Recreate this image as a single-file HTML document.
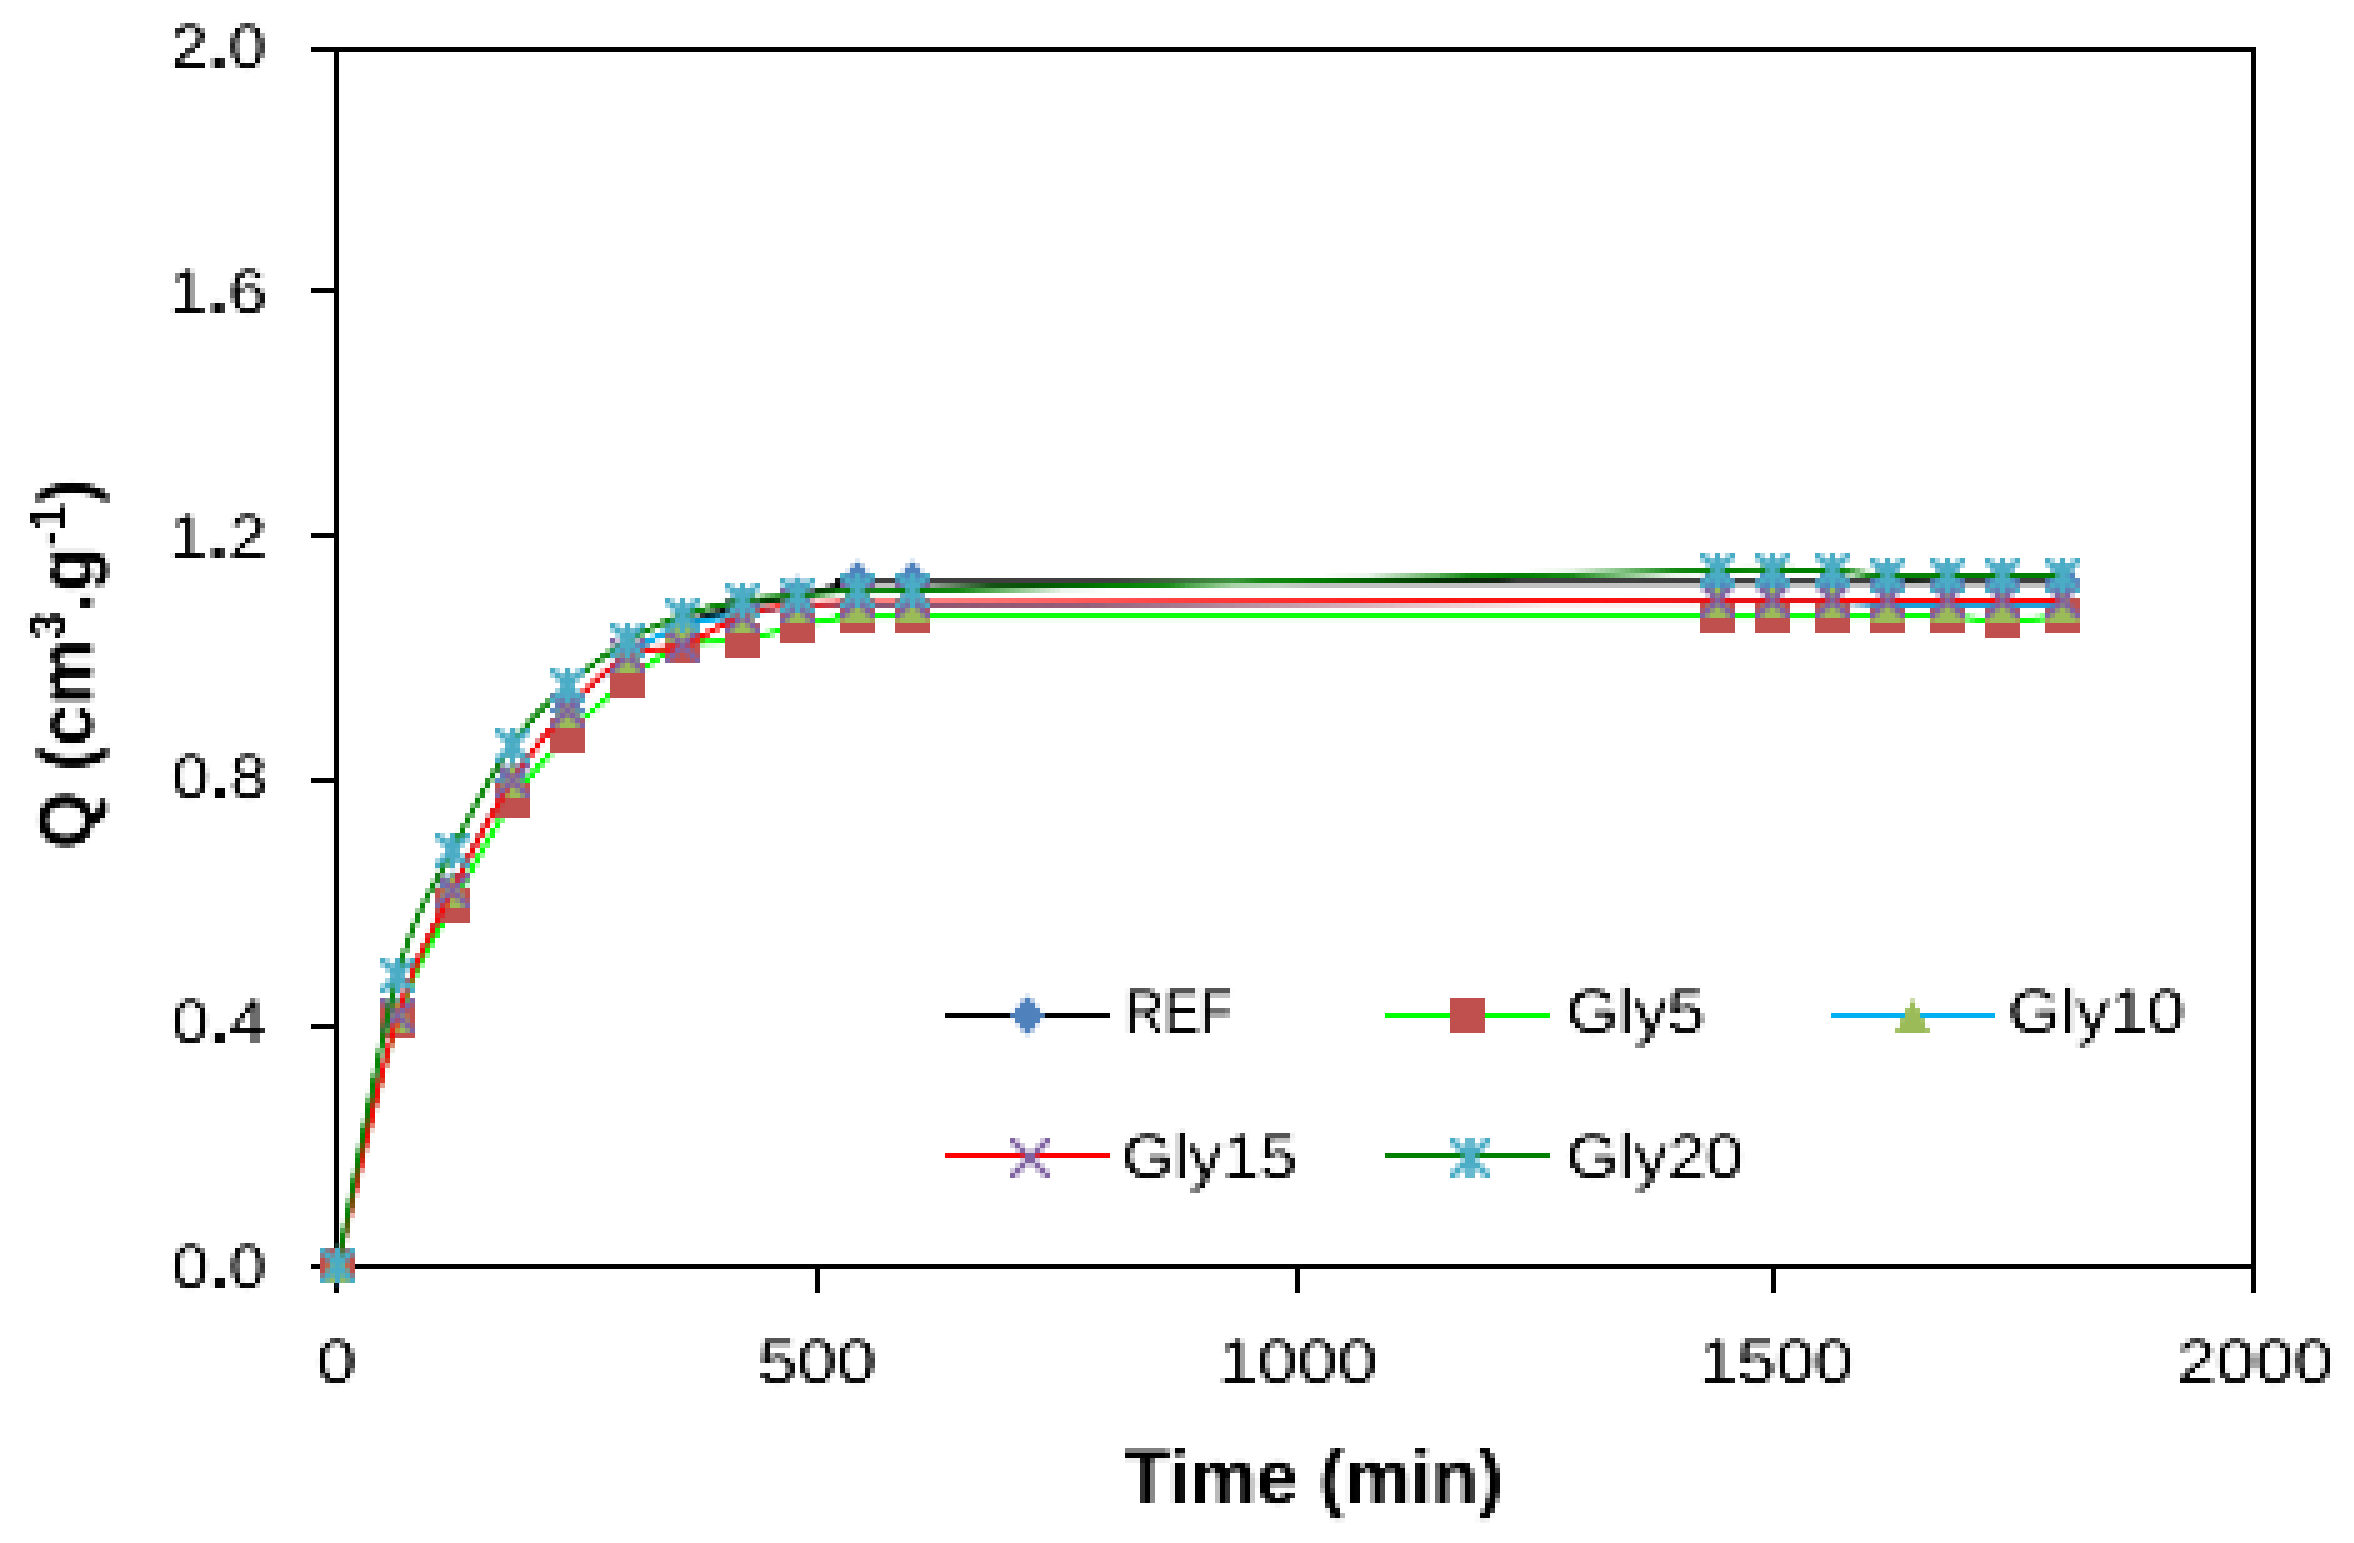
<!DOCTYPE html>
<html><head><meta charset="utf-8"><title>Chart</title>
<style>html,body{margin:0;padding:0;background:#fff}svg{display:block}</style></head>
<body>
<svg width="2354" height="1543" viewBox="0 0 2354 1543" font-family="'Liberation Sans', sans-serif">
<defs><filter id="px" x="0" y="0" width="2354" height="1543" filterUnits="userSpaceOnUse" color-interpolation-filters="sRGB">
<feConvolveMatrix in="SourceGraphic" order="5 1" kernelMatrix="1 1 1 1 1" divisor="5" edgeMode="none" preserveAlpha="false" result="a"/>
<feConvolveMatrix in="a" order="1 5" kernelMatrix="1 1 1 1 1" divisor="5" edgeMode="none" preserveAlpha="false" result="b"/>
<feFlood x="2" y="5" width="1" height="1" flood-color="#000"/>
<feComposite width="5" height="5" x="0" y="3"/>
<feTile result="t"/>
<feComposite in="b" in2="t" operator="in"/>
<feMorphology operator="dilate" radius="2"/>
<feComponentTransfer><feFuncA type="table" tableValues="0 0.08 0.5 0.92 1"/></feComponentTransfer>
</filter></defs>
<rect width="2354" height="1543" fill="#fff"/>
<g fill="#000" shape-rendering="crispEdges">
<rect x="311" y="47" width="1945" height="5"/>
<rect x="334" y="47" width="5" height="1246"/>
<rect x="2251" y="47" width="5" height="1246"/>
<rect x="311" y="1264" width="1945" height="5"/>
<rect x="311" y="288" width="25" height="5"/>
<rect x="311" y="533" width="25" height="5"/>
<rect x="311" y="778" width="25" height="5"/>
<rect x="311" y="1023.5" width="25" height="5"/>
<rect x="814.5" y="1266" width="5" height="27"/>
<rect x="1295" y="1266" width="5" height="27"/>
<rect x="1770.5" y="1266" width="5" height="27"/>
</g>
<g shape-rendering="crispEdges">
<rect x="945" y="1013" width="165" height="5" fill="#000000"/>
<rect x="1385" y="1013" width="165" height="5" fill="#00FF00"/>
<rect x="1831" y="1013" width="164" height="5" fill="#00B0F0"/>
<rect x="945" y="1153" width="165" height="5" fill="#FF0000"/>
<rect x="1385" y="1153" width="165" height="5" fill="#008000"/>
</g>
<g filter="url(#px)">
<path d="M337.5 1266.5C347.5 1224.9 378.3 1079.9 397.5 1017.0C416.7 954.1 433.3 928.8 452.5 889.2C471.7 849.7 493.3 809.6 512.5 779.7C531.7 749.8 548.3 730.5 567.5 709.7C586.7 688.9 608.3 669.2 627.5 655.0C646.7 640.8 663.3 632.6 682.5 624.5C701.7 616.4 723.3 611.0 742.5 606.3C761.7 601.5 778.3 599.9 797.5 595.9C816.7 591.9 838.3 584.5 857.5 582.2C876.7 580.0 769.2 582.2 912.5 582.2C1055.8 582.2 1574.2 582.2 1717.5 582.2C1860.8 582.2 1753.3 582.2 1772.5 582.2C1791.7 582.2 1813.3 582.2 1832.5 582.2C1851.7 582.2 1868.3 582.2 1887.5 582.2C1906.7 582.2 1928.3 582.2 1947.5 582.2C1966.7 582.2 1983.3 582.2 2002.5 582.2C2021.7 582.2 2052.5 582.2 2062.5 582.2" fill="none" stroke="#000000" stroke-width="5" stroke-linejoin="round"/>
<path d="M337.5 1245.0L355.0 1265.5L337.5 1286.0L320.0 1265.5Z" fill="#4F81BD"/>
<path d="M397.5 995.0L415.0 1015.5L397.5 1036.0L380.0 1015.5Z" fill="#4F81BD"/>
<path d="M452.5 870.0L470.0 890.5L452.5 911.0L435.0 890.5Z" fill="#4F81BD"/>
<path d="M512.5 760.0L530.0 780.5L512.5 801.0L495.0 780.5Z" fill="#4F81BD"/>
<path d="M567.5 690.0L585.0 710.5L567.5 731.0L550.0 710.5Z" fill="#4F81BD"/>
<path d="M627.5 635.0L645.0 655.5L627.5 676.0L610.0 655.5Z" fill="#4F81BD"/>
<path d="M682.5 605.0L700.0 625.5L682.5 646.0L665.0 625.5Z" fill="#4F81BD"/>
<path d="M742.5 585.0L760.0 605.5L742.5 626.0L725.0 605.5Z" fill="#4F81BD"/>
<path d="M797.5 575.0L815.0 595.5L797.5 616.0L780.0 595.5Z" fill="#4F81BD"/>
<path d="M857.5 560.0L875.0 580.5L857.5 601.0L840.0 580.5Z" fill="#4F81BD"/>
<path d="M912.5 560.0L930.0 580.5L912.5 601.0L895.0 580.5Z" fill="#4F81BD"/>
<path d="M1717.5 560.0L1735.0 580.5L1717.5 601.0L1700.0 580.5Z" fill="#4F81BD"/>
<path d="M1772.5 560.0L1790.0 580.5L1772.5 601.0L1755.0 580.5Z" fill="#4F81BD"/>
<path d="M1832.5 560.0L1850.0 580.5L1832.5 601.0L1815.0 580.5Z" fill="#4F81BD"/>
<path d="M1887.5 560.0L1905.0 580.5L1887.5 601.0L1870.0 580.5Z" fill="#4F81BD"/>
<path d="M1947.5 560.0L1965.0 580.5L1947.5 601.0L1930.0 580.5Z" fill="#4F81BD"/>
<path d="M2002.5 560.0L2020.0 580.5L2002.5 601.0L1985.0 580.5Z" fill="#4F81BD"/>
<path d="M2062.5 560.0L2080.0 580.5L2062.5 601.0L2045.0 580.5Z" fill="#4F81BD"/>
<path d="M337.5 1266.5C347.5 1225.5 378.3 1080.8 397.5 1020.7C416.7 960.5 433.3 942.4 452.5 905.7C471.7 868.9 493.3 828.8 512.5 800.4C531.7 772.0 548.3 755.3 567.5 735.3C586.7 715.3 608.3 695.4 627.5 680.5C646.7 665.6 663.3 652.5 682.5 645.8C701.7 639.1 723.3 643.7 742.5 640.4C761.7 637.0 778.3 629.8 797.5 625.7C816.7 621.7 838.3 617.8 857.5 616.2C876.7 614.6 769.2 616.2 912.5 616.2C1055.8 616.2 1574.2 616.2 1717.5 616.2C1860.8 616.2 1753.3 616.2 1772.5 616.2C1791.7 616.2 1813.3 616.2 1832.5 616.2C1851.7 616.2 1868.3 616.2 1887.5 616.2C1906.7 616.2 1928.3 615.4 1947.5 616.2C1966.7 617.0 1983.3 621.2 2002.5 621.2C2021.7 621.2 2052.5 617.0 2062.5 616.2" fill="none" stroke="#00FF00" stroke-width="5" stroke-linejoin="round"/>
<rect x="320.0" y="1248.0" width="35.0" height="35.0" fill="#C0504D"/>
<rect x="380.0" y="1003.0" width="35.0" height="35.0" fill="#C0504D"/>
<rect x="435.0" y="888.0" width="35.0" height="35.0" fill="#C0504D"/>
<rect x="495.0" y="783.0" width="35.0" height="35.0" fill="#C0504D"/>
<rect x="550.0" y="718.0" width="35.0" height="35.0" fill="#C0504D"/>
<rect x="610.0" y="663.0" width="35.0" height="35.0" fill="#C0504D"/>
<rect x="665.0" y="628.0" width="35.0" height="35.0" fill="#C0504D"/>
<rect x="725.0" y="623.0" width="35.0" height="35.0" fill="#C0504D"/>
<rect x="780.0" y="608.0" width="35.0" height="35.0" fill="#C0504D"/>
<rect x="840.0" y="598.0" width="35.0" height="35.0" fill="#C0504D"/>
<rect x="895.0" y="598.0" width="35.0" height="35.0" fill="#C0504D"/>
<rect x="1700.0" y="598.0" width="35.0" height="35.0" fill="#C0504D"/>
<rect x="1755.0" y="598.0" width="35.0" height="35.0" fill="#C0504D"/>
<rect x="1815.0" y="598.0" width="35.0" height="35.0" fill="#C0504D"/>
<rect x="1870.0" y="598.0" width="35.0" height="35.0" fill="#C0504D"/>
<rect x="1930.0" y="598.0" width="35.0" height="35.0" fill="#C0504D"/>
<rect x="1985.0" y="603.0" width="35.0" height="35.0" fill="#C0504D"/>
<rect x="2045.0" y="598.0" width="35.0" height="35.0" fill="#C0504D"/>
<path d="M337.5 1266.5C347.5 1224.9 378.3 1079.7 397.5 1017.0C416.7 954.3 433.3 929.9 452.5 890.4C471.7 851.0 493.3 810.3 512.5 780.3C531.7 750.3 548.3 731.1 567.5 710.3C586.7 689.5 608.3 669.8 627.5 655.6C646.7 641.4 663.3 631.8 682.5 625.1C701.7 618.4 723.3 618.8 742.5 615.4C761.7 612.1 778.3 606.8 797.5 605.1C816.7 603.3 838.3 605.1 857.5 605.1C876.7 605.1 769.2 605.8 912.5 605.1C1055.8 604.4 1574.2 601.5 1717.5 600.8C1860.8 600.1 1753.3 600.8 1772.5 600.8C1791.7 600.8 1813.3 600.1 1832.5 600.8C1851.7 601.6 1868.3 604.6 1887.5 605.3C1906.7 606.1 1928.3 605.3 1947.5 605.3C1966.7 605.3 1983.3 605.3 2002.5 605.3C2021.7 605.3 2052.5 605.3 2062.5 605.3" fill="none" stroke="#00B0F0" stroke-width="5" stroke-linejoin="round"/>
<path d="M337.5 1248.0L355.0 1283.0L320.0 1283.0Z" fill="#9BBB59"/>
<path d="M397.5 998.0L415.0 1033.0L380.0 1033.0Z" fill="#9BBB59"/>
<path d="M452.5 873.0L470.0 908.0L435.0 908.0Z" fill="#9BBB59"/>
<path d="M512.5 763.0L530.0 798.0L495.0 798.0Z" fill="#9BBB59"/>
<path d="M567.5 693.0L585.0 728.0L550.0 728.0Z" fill="#9BBB59"/>
<path d="M627.5 638.0L645.0 673.0L610.0 673.0Z" fill="#9BBB59"/>
<path d="M682.5 608.0L700.0 643.0L665.0 643.0Z" fill="#9BBB59"/>
<path d="M742.5 598.0L760.0 633.0L725.0 633.0Z" fill="#9BBB59"/>
<path d="M797.5 588.0L815.0 623.0L780.0 623.0Z" fill="#9BBB59"/>
<path d="M857.5 588.0L875.0 623.0L840.0 623.0Z" fill="#9BBB59"/>
<path d="M912.5 588.0L930.0 623.0L895.0 623.0Z" fill="#9BBB59"/>
<path d="M1717.5 583.0L1735.0 618.0L1700.0 618.0Z" fill="#9BBB59"/>
<path d="M1772.5 583.0L1790.0 618.0L1755.0 618.0Z" fill="#9BBB59"/>
<path d="M1832.5 583.0L1850.0 618.0L1815.0 618.0Z" fill="#9BBB59"/>
<path d="M1887.5 588.0L1905.0 623.0L1870.0 623.0Z" fill="#9BBB59"/>
<path d="M1947.5 588.0L1965.0 623.0L1930.0 623.0Z" fill="#9BBB59"/>
<path d="M2002.5 588.0L2020.0 623.0L1985.0 623.0Z" fill="#9BBB59"/>
<path d="M2062.5 588.0L2080.0 623.0L2045.0 623.0Z" fill="#9BBB59"/>
<path d="M337.5 1266.5C347.5 1224.9 378.3 1079.7 397.5 1017.0C416.7 954.3 433.3 929.9 452.5 890.4C471.7 851.0 493.3 810.3 512.5 780.3C531.7 750.3 548.3 731.1 567.5 710.3C586.7 689.5 608.3 666.3 627.5 655.6C646.7 644.8 663.3 652.5 682.5 645.8C701.7 639.1 723.3 622.2 742.5 615.4C761.7 608.6 778.3 607.1 797.5 605.1C816.7 603.0 838.3 603.3 857.5 603.0C876.7 602.6 769.2 603.3 912.5 603.0C1055.8 602.7 1574.2 601.4 1717.5 601.1C1860.8 600.8 1753.3 601.1 1772.5 601.1C1791.7 601.1 1813.3 601.1 1832.5 601.1C1851.7 601.1 1868.3 601.1 1887.5 601.1C1906.7 601.1 1928.3 601.1 1947.5 601.1C1966.7 601.1 1983.3 601.1 2002.5 601.1C2021.7 601.1 2052.5 601.1 2062.5 601.1" fill="none" stroke="#FF0000" stroke-width="5" stroke-linejoin="round"/>
<path d="M320.0 1248.0L324.6 1248.0L355.0 1278.4L355.0 1283.0L350.4 1283.0L320.0 1252.6ZM355.0 1248.0L355.0 1252.6L324.6 1283.0L320.0 1283.0L320.0 1278.4L350.4 1248.0Z" fill="#8064A2"/>
<path d="M380.0 998.0L384.6 998.0L415.0 1028.4L415.0 1033.0L410.4 1033.0L380.0 1002.6ZM415.0 998.0L415.0 1002.6L384.6 1033.0L380.0 1033.0L380.0 1028.4L410.4 998.0Z" fill="#8064A2"/>
<path d="M435.0 873.0L439.6 873.0L470.0 903.4L470.0 908.0L465.4 908.0L435.0 877.6ZM470.0 873.0L470.0 877.6L439.6 908.0L435.0 908.0L435.0 903.4L465.4 873.0Z" fill="#8064A2"/>
<path d="M495.0 763.0L499.6 763.0L530.0 793.4L530.0 798.0L525.4 798.0L495.0 767.6ZM530.0 763.0L530.0 767.6L499.6 798.0L495.0 798.0L495.0 793.4L525.4 763.0Z" fill="#8064A2"/>
<path d="M550.0 693.0L554.6 693.0L585.0 723.4L585.0 728.0L580.4 728.0L550.0 697.6ZM585.0 693.0L585.0 697.6L554.6 728.0L550.0 728.0L550.0 723.4L580.4 693.0Z" fill="#8064A2"/>
<path d="M610.0 638.0L614.6 638.0L645.0 668.4L645.0 673.0L640.4 673.0L610.0 642.6ZM645.0 638.0L645.0 642.6L614.6 673.0L610.0 673.0L610.0 668.4L640.4 638.0Z" fill="#8064A2"/>
<path d="M665.0 628.0L669.6 628.0L700.0 658.4L700.0 663.0L695.4 663.0L665.0 632.6ZM700.0 628.0L700.0 632.6L669.6 663.0L665.0 663.0L665.0 658.4L695.4 628.0Z" fill="#8064A2"/>
<path d="M725.0 598.0L729.6 598.0L760.0 628.4L760.0 633.0L755.4 633.0L725.0 602.6ZM760.0 598.0L760.0 602.6L729.6 633.0L725.0 633.0L725.0 628.4L755.4 598.0Z" fill="#8064A2"/>
<path d="M780.0 588.0L784.6 588.0L815.0 618.4L815.0 623.0L810.4 623.0L780.0 592.6ZM815.0 588.0L815.0 592.6L784.6 623.0L780.0 623.0L780.0 618.4L810.4 588.0Z" fill="#8064A2"/>
<path d="M840.0 583.0L844.6 583.0L875.0 613.4L875.0 618.0L870.4 618.0L840.0 587.6ZM875.0 583.0L875.0 587.6L844.6 618.0L840.0 618.0L840.0 613.4L870.4 583.0Z" fill="#8064A2"/>
<path d="M895.0 583.0L899.6 583.0L930.0 613.4L930.0 618.0L925.4 618.0L895.0 587.6ZM930.0 583.0L930.0 587.6L899.6 618.0L895.0 618.0L895.0 613.4L925.4 583.0Z" fill="#8064A2"/>
<path d="M1700.0 583.0L1704.6 583.0L1735.0 613.4L1735.0 618.0L1730.4 618.0L1700.0 587.6ZM1735.0 583.0L1735.0 587.6L1704.6 618.0L1700.0 618.0L1700.0 613.4L1730.4 583.0Z" fill="#8064A2"/>
<path d="M1755.0 583.0L1759.6 583.0L1790.0 613.4L1790.0 618.0L1785.4 618.0L1755.0 587.6ZM1790.0 583.0L1790.0 587.6L1759.6 618.0L1755.0 618.0L1755.0 613.4L1785.4 583.0Z" fill="#8064A2"/>
<path d="M1815.0 583.0L1819.6 583.0L1850.0 613.4L1850.0 618.0L1845.4 618.0L1815.0 587.6ZM1850.0 583.0L1850.0 587.6L1819.6 618.0L1815.0 618.0L1815.0 613.4L1845.4 583.0Z" fill="#8064A2"/>
<path d="M1870.0 583.0L1874.6 583.0L1905.0 613.4L1905.0 618.0L1900.4 618.0L1870.0 587.6ZM1905.0 583.0L1905.0 587.6L1874.6 618.0L1870.0 618.0L1870.0 613.4L1900.4 583.0Z" fill="#8064A2"/>
<path d="M1930.0 583.0L1934.6 583.0L1965.0 613.4L1965.0 618.0L1960.4 618.0L1930.0 587.6ZM1965.0 583.0L1965.0 587.6L1934.6 618.0L1930.0 618.0L1930.0 613.4L1960.4 583.0Z" fill="#8064A2"/>
<path d="M1985.0 583.0L1989.6 583.0L2020.0 613.4L2020.0 618.0L2015.4 618.0L1985.0 587.6ZM2020.0 583.0L2020.0 587.6L1989.6 618.0L1985.0 618.0L1985.0 613.4L2015.4 583.0Z" fill="#8064A2"/>
<path d="M2045.0 583.0L2049.6 583.0L2080.0 613.4L2080.0 618.0L2075.4 618.0L2045.0 587.6ZM2080.0 583.0L2080.0 587.6L2049.6 618.0L2045.0 618.0L2045.0 613.4L2075.4 583.0Z" fill="#8064A2"/>
<path d="M337.5 1266.5C347.5 1218.0 378.3 1045.1 397.5 975.6C416.7 906.2 433.3 888.3 452.5 849.7C471.7 811.0 493.3 771.2 512.5 743.8C531.7 716.4 548.3 702.5 567.5 685.4C586.7 668.2 608.3 652.6 627.5 641.0C646.7 629.3 663.3 622.1 682.5 615.4C701.7 608.7 723.3 604.1 742.5 600.8C761.7 597.5 778.3 597.3 797.5 595.6C816.7 593.8 838.3 591.3 857.5 590.5C876.7 589.6 769.2 593.8 912.5 590.5C1055.8 587.2 1574.2 574.0 1717.5 570.7C1860.8 567.4 1753.3 570.7 1772.5 570.7C1791.7 570.7 1813.3 569.9 1832.5 570.7C1851.7 571.5 1868.3 574.8 1887.5 575.6C1906.7 576.4 1928.3 575.6 1947.5 575.6C1966.7 575.6 1983.3 575.6 2002.5 575.6C2021.7 575.6 2052.5 575.6 2062.5 575.6" fill="none" stroke="#008000" stroke-width="5" stroke-linejoin="round"/>
<path d="M320.0 1248.0L325.0 1248.0L355.0 1278.0L355.0 1283.0L350.0 1283.0L320.0 1253.0ZM355.0 1248.0L355.0 1253.0L325.0 1283.0L320.0 1283.0L320.0 1278.0L350.0 1248.0ZM334.0 1248.0h7v35.0h-7Z" fill="#4BACC6"/>
<path d="M380.0 958.0L385.0 958.0L415.0 988.0L415.0 993.0L410.0 993.0L380.0 963.0ZM415.0 958.0L415.0 963.0L385.0 993.0L380.0 993.0L380.0 988.0L410.0 958.0ZM394.0 958.0h7v35.0h-7Z" fill="#4BACC6"/>
<path d="M435.0 833.0L440.0 833.0L470.0 863.0L470.0 868.0L465.0 868.0L435.0 838.0ZM470.0 833.0L470.0 838.0L440.0 868.0L435.0 868.0L435.0 863.0L465.0 833.0ZM449.0 833.0h7v35.0h-7Z" fill="#4BACC6"/>
<path d="M495.0 728.0L500.0 728.0L530.0 758.0L530.0 763.0L525.0 763.0L495.0 733.0ZM530.0 728.0L530.0 733.0L500.0 763.0L495.0 763.0L495.0 758.0L525.0 728.0ZM509.0 728.0h7v35.0h-7Z" fill="#4BACC6"/>
<path d="M550.0 668.0L555.0 668.0L585.0 698.0L585.0 703.0L580.0 703.0L550.0 673.0ZM585.0 668.0L585.0 673.0L555.0 703.0L550.0 703.0L550.0 698.0L580.0 668.0ZM564.0 668.0h7v35.0h-7Z" fill="#4BACC6"/>
<path d="M610.0 623.0L615.0 623.0L645.0 653.0L645.0 658.0L640.0 658.0L610.0 628.0ZM645.0 623.0L645.0 628.0L615.0 658.0L610.0 658.0L610.0 653.0L640.0 623.0ZM624.0 623.0h7v35.0h-7Z" fill="#4BACC6"/>
<path d="M665.0 598.0L670.0 598.0L700.0 628.0L700.0 633.0L695.0 633.0L665.0 603.0ZM700.0 598.0L700.0 603.0L670.0 633.0L665.0 633.0L665.0 628.0L695.0 598.0ZM679.0 598.0h7v35.0h-7Z" fill="#4BACC6"/>
<path d="M725.0 583.0L730.0 583.0L760.0 613.0L760.0 618.0L755.0 618.0L725.0 588.0ZM760.0 583.0L760.0 588.0L730.0 618.0L725.0 618.0L725.0 613.0L755.0 583.0ZM739.0 583.0h7v35.0h-7Z" fill="#4BACC6"/>
<path d="M780.0 578.0L785.0 578.0L815.0 608.0L815.0 613.0L810.0 613.0L780.0 583.0ZM815.0 578.0L815.0 583.0L785.0 613.0L780.0 613.0L780.0 608.0L810.0 578.0ZM794.0 578.0h7v35.0h-7Z" fill="#4BACC6"/>
<path d="M840.0 573.0L845.0 573.0L875.0 603.0L875.0 608.0L870.0 608.0L840.0 578.0ZM875.0 573.0L875.0 578.0L845.0 608.0L840.0 608.0L840.0 603.0L870.0 573.0ZM854.0 573.0h7v35.0h-7Z" fill="#4BACC6"/>
<path d="M895.0 573.0L900.0 573.0L930.0 603.0L930.0 608.0L925.0 608.0L895.0 578.0ZM930.0 573.0L930.0 578.0L900.0 608.0L895.0 608.0L895.0 603.0L925.0 573.0ZM909.0 573.0h7v35.0h-7Z" fill="#4BACC6"/>
<path d="M1700.0 553.0L1705.0 553.0L1735.0 583.0L1735.0 588.0L1730.0 588.0L1700.0 558.0ZM1735.0 553.0L1735.0 558.0L1705.0 588.0L1700.0 588.0L1700.0 583.0L1730.0 553.0ZM1714.0 553.0h7v35.0h-7Z" fill="#4BACC6"/>
<path d="M1755.0 553.0L1760.0 553.0L1790.0 583.0L1790.0 588.0L1785.0 588.0L1755.0 558.0ZM1790.0 553.0L1790.0 558.0L1760.0 588.0L1755.0 588.0L1755.0 583.0L1785.0 553.0ZM1769.0 553.0h7v35.0h-7Z" fill="#4BACC6"/>
<path d="M1815.0 553.0L1820.0 553.0L1850.0 583.0L1850.0 588.0L1845.0 588.0L1815.0 558.0ZM1850.0 553.0L1850.0 558.0L1820.0 588.0L1815.0 588.0L1815.0 583.0L1845.0 553.0ZM1829.0 553.0h7v35.0h-7Z" fill="#4BACC6"/>
<path d="M1870.0 558.0L1875.0 558.0L1905.0 588.0L1905.0 593.0L1900.0 593.0L1870.0 563.0ZM1905.0 558.0L1905.0 563.0L1875.0 593.0L1870.0 593.0L1870.0 588.0L1900.0 558.0ZM1884.0 558.0h7v35.0h-7Z" fill="#4BACC6"/>
<path d="M1930.0 558.0L1935.0 558.0L1965.0 588.0L1965.0 593.0L1960.0 593.0L1930.0 563.0ZM1965.0 558.0L1965.0 563.0L1935.0 593.0L1930.0 593.0L1930.0 588.0L1960.0 558.0ZM1944.0 558.0h7v35.0h-7Z" fill="#4BACC6"/>
<path d="M1985.0 558.0L1990.0 558.0L2020.0 588.0L2020.0 593.0L2015.0 593.0L1985.0 563.0ZM2020.0 558.0L2020.0 563.0L1990.0 593.0L1985.0 593.0L1985.0 588.0L2015.0 558.0ZM1999.0 558.0h7v35.0h-7Z" fill="#4BACC6"/>
<path d="M2045.0 558.0L2050.0 558.0L2080.0 588.0L2080.0 593.0L2075.0 593.0L2045.0 563.0ZM2080.0 558.0L2080.0 563.0L2050.0 593.0L2045.0 593.0L2045.0 588.0L2075.0 558.0ZM2059.0 558.0h7v35.0h-7Z" fill="#4BACC6"/>
<path d="M1027.5 995.0L1045.0 1015.5L1027.5 1036.0L1010.0 1015.5Z" fill="#4F81BD"/>
<text x="1124.8" y="1033" font-size="63" textLength="107.7" lengthAdjust="spacingAndGlyphs" fill="#000">REF</text>
<rect x="1450.0" y="998.0" width="35.0" height="35.0" fill="#C0504D"/>
<text x="1566.3" y="1033" font-size="63" textLength="138.8" lengthAdjust="spacingAndGlyphs" fill="#000">Gly5</text>
<path d="M1912.5 998.0L1930.0 1033.0L1895.0 1033.0Z" fill="#9BBB59"/>
<text x="2007.9" y="1033" font-size="63" textLength="177.2" lengthAdjust="spacingAndGlyphs" fill="#000">Gly10</text>
<path d="M1010.0 1138.0L1014.6 1138.0L1050.0 1173.4L1050.0 1178.0L1045.4 1178.0L1010.0 1142.6ZM1050.0 1138.0L1050.0 1142.6L1014.6 1178.0L1010.0 1178.0L1010.0 1173.4L1045.4 1138.0Z" fill="#8064A2"/>
<text x="1121.7" y="1178" font-size="63" textLength="175.4" lengthAdjust="spacingAndGlyphs" fill="#000">Gly15</text>
<path d="M1450.0 1138.0L1455.0 1138.0L1490.0 1173.0L1490.0 1178.0L1485.0 1178.0L1450.0 1143.0ZM1490.0 1138.0L1490.0 1143.0L1455.0 1178.0L1450.0 1178.0L1450.0 1173.0L1485.0 1138.0ZM1466.5 1138.0h7v40h-7Z" fill="#4BACC6"/>
<text x="1566.3" y="1178" font-size="63" textLength="177.0" lengthAdjust="spacingAndGlyphs" fill="#000">Gly20</text>
<text x="170.8" y="68" font-size="63" textLength="95.3" lengthAdjust="spacingAndGlyphs">2<tspan font-weight="bold" font-size="70">.</tspan>0</text>
<text x="168.5" y="313" font-size="63" textLength="98.8" lengthAdjust="spacingAndGlyphs">1<tspan font-weight="bold" font-size="70">.</tspan>6</text>
<text x="168.5" y="558" font-size="63" textLength="98.8" lengthAdjust="spacingAndGlyphs">1<tspan font-weight="bold" font-size="70">.</tspan>2</text>
<text x="171.9" y="798" font-size="63" textLength="95.3" lengthAdjust="spacingAndGlyphs">0<tspan font-weight="bold" font-size="70">.</tspan>8</text>
<text x="171.9" y="1043" font-size="63" textLength="94.2" lengthAdjust="spacingAndGlyphs">0<tspan font-weight="bold" font-size="70">.</tspan>4</text>
<text x="171.9" y="1288" font-size="63" textLength="94.2" lengthAdjust="spacingAndGlyphs">0<tspan font-weight="bold" font-size="70">.</tspan>0</text>
<text x="316.7" y="1383" font-size="63" textLength="39.5" lengthAdjust="spacingAndGlyphs">0</text>
<text x="757.9" y="1383" font-size="63" textLength="118.2" lengthAdjust="spacingAndGlyphs">500</text>
<text x="1217.7" y="1383" font-size="63" textLength="159.6" lengthAdjust="spacingAndGlyphs">1000</text>
<text x="1698.8" y="1383" font-size="63" textLength="154.3" lengthAdjust="spacingAndGlyphs">1500</text>
<text x="2176.9" y="1383" font-size="63" textLength="156.2" lengthAdjust="spacingAndGlyphs">2000</text>
<text x="1123.9" y="1503" font-size="76.8" font-weight="bold" textLength="379.1" lengthAdjust="spacingAndGlyphs">Time (min)</text>
<text transform="translate(92,849.2) rotate(-90)" font-size="76.8" font-weight="bold" textLength="370.1" lengthAdjust="spacingAndGlyphs">Q (cm<tspan dy="-26.7" font-size="50">3</tspan><tspan dy="26.7">.g</tspan><tspan dy="-26.7" font-size="50">-1</tspan><tspan dy="26.7">)</tspan></text>
</g>
</svg>
</body></html>
